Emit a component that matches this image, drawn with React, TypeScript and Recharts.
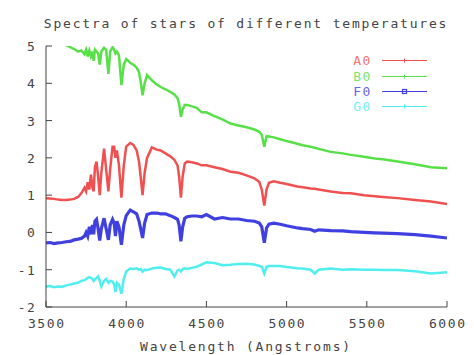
import { LineChart, Line, XAxis, YAxis, Legend } from "recharts"

// wavelength grid (Angstroms), denser around the absorption lines
const wavelengths = [
  3500, 3525, 3550, 3575, 3600, 3625, 3650, 3675, 3700, 3720, 3740, 3750, 3760, 3770, 3780, 3790,
  3797, 3805, 3815, 3825, 3835, 3845, 3862, 3875, 3889, 3900, 3915, 3925, 3933, 3942, 3955, 3970,
  3985, 4000, 4025, 4045, 4065, 4080, 4090, 4102, 4115, 4130, 4160, 4190, 4215, 4245, 4275, 4300,
  4320, 4330, 4341, 4352, 4365, 4380, 4410, 4440, 4471, 4500, 4550, 4600, 4650, 4700, 4750, 4800,
  4830, 4845, 4861, 4875, 4890, 4920, 4960, 5000, 5067, 5100, 5150, 5175, 5200, 5275, 5350, 5400,
  5483, 5550, 5600, 5692, 5800, 5900, 6000,
]

const a0 = [
  0.92, 0.91, 0.9, 0.88, 0.87, 0.87, 0.88, 0.9, 0.95, 1.05, 1.2, 1.1, 1.35, 1.15, 1.55, 1.2,
  1.1, 1.75, 1.9, 1.5, 1.0, 1.6, 2.25, 1.7, 1.1, 1.7, 2.3, 2.3, 2.0, 2.2, 1.8, 0.93,
  1.8, 2.3, 2.4, 2.35, 2.2, 1.9, 1.5, 1.0, 1.6, 2.0, 2.28, 2.22, 2.2, 2.12, 2.04, 1.95,
  1.8, 1.5, 0.93, 1.5, 1.85, 1.9, 1.88, 1.85, 1.8, 1.8, 1.75, 1.7, 1.63, 1.6, 1.53, 1.45,
  1.35, 1.15, 0.72, 1.15, 1.33, 1.37, 1.33, 1.3, 1.23, 1.21, 1.18, 1.17, 1.15, 1.1, 1.06, 1.05,
  1.0, 0.97, 0.95, 0.92, 0.87, 0.83, 0.76,
]

const b0 = [
  5.6, 5.5, 5.4, 5.25, 5.1, 5.02, 4.97, 4.92, 4.85, 4.88, 4.78, 4.9, 4.72, 4.88, 4.72, 4.85,
  4.6, 4.9, 4.85, 4.8, 4.5, 4.85, 4.95, 4.9, 4.25, 4.85, 4.97, 4.9, 4.8, 4.85, 4.75, 3.95,
  4.5, 4.65, 4.55, 4.5, 4.42, 4.3, 4.05, 3.68, 4.0, 4.22, 4.08, 3.97, 3.9, 3.84, 3.77, 3.7,
  3.6, 3.45, 3.1, 3.3, 3.42, 3.42, 3.38, 3.34, 3.22, 3.22, 3.12, 3.03, 2.92, 2.87, 2.82, 2.76,
  2.7, 2.62, 2.3, 2.58, 2.57, 2.55, 2.5, 2.45, 2.38, 2.34, 2.3, 2.27, 2.24, 2.16, 2.12, 2.08,
  2.03, 1.98, 1.96, 1.9, 1.83, 1.75, 1.72,
]

const f0 = [
  -0.28, -0.27, -0.3, -0.28, -0.27, -0.25, -0.24, -0.2, -0.18, -0.16, -0.1, 0.0, -0.1, 0.15, -0.05, 0.2,
  -0.05, 0.3, 0.35, 0.1, -0.22, 0.1, 0.38, 0.1, -0.2, 0.2, 0.35, 0.25, -0.1, 0.3, 0.15, -0.33,
  0.2, 0.45, 0.6, 0.55, 0.5, 0.3, 0.1, -0.15, 0.25, 0.48, 0.52, 0.52, 0.5, 0.5, 0.45, 0.4,
  0.35, 0.2, -0.24, 0.15, 0.38, 0.42, 0.44, 0.44, 0.42, 0.48, 0.36, 0.4, 0.36, 0.36, 0.32, 0.3,
  0.25, 0.15, -0.28, 0.12, 0.22, 0.25, 0.22, 0.18, 0.12, 0.1, 0.08, 0.03, 0.07, 0.05, 0.04, 0.02,
  0.0, -0.01, -0.02, -0.03, -0.06, -0.1, -0.15,
]

const g0 = [
  -1.45, -1.44, -1.47, -1.45, -1.46, -1.42, -1.4, -1.37, -1.35, -1.3, -1.28, -1.25, -1.22, -1.2, -1.22, -1.25,
  -1.3, -1.25, -1.22, -1.18, -1.3, -1.45, -1.3, -1.25, -1.35, -1.3, -1.32, -1.4, -1.6, -1.35, -1.4, -1.64,
  -1.25, -1.05, -0.97, -0.98, -0.96, -1.0, -0.98, -1.05, -1.0, -1.01, -0.97, -0.95, -0.94, -0.98, -1.0, -1.18,
  -1.02, -1.0, -1.05, -0.98, -0.96, -0.98, -0.95, -0.92, -0.86, -0.8, -0.82, -0.88, -0.87, -0.85, -0.84, -0.86,
  -0.9, -0.92, -1.1, -0.92, -0.9, -0.9, -0.9, -0.93, -0.96, -0.97, -1.0, -1.1, -1.0, -0.97, -1.0, -0.99,
  -1.0, -1.0, -1.01, -1.01, -1.04, -1.1, -1.07,
]

const xTicks = [3500, 4000, 4500, 5000, 5500, 6000]
const yTicks = [-2, -1, 0, 1, 2, 3, 4, 5]

const data = wavelengths.map((w, i) => ({ w, a0: a0[i], b0: b0[i], f0: f0[i], g0: g0[i] }))

const FONT = "'DejaVu Sans Mono', monospace"
const INK = "#444"
const FS = 13
const LS = 1.6
const markers: Record<string, string> = { A0: "plus", B0: "plus", F0: "box", G0: "plus" }

function BottomTick({ x, y, payload }: any) {
  return (
    <g>
      <line x1={x} x2={x} y1={y} y2={y - 6} stroke={INK} />
      <text x={x + LS / 2} y={y + 20.5} textAnchor="middle" fill={INK} fontSize={FS} letterSpacing={LS} fontFamily={FONT}>
        {payload.value}
      </text>
    </g>
  )
}

function TopTick({ x, y }: any) {
  return <line x1={x} x2={x} y1={y} y2={y + 6} stroke={INK} />
}

function LeftTick({ x, y, payload }: any) {
  return (
    <g>
      <line x1={x} x2={x + 6} y1={y} y2={y} stroke={INK} />
      <text x={x - 9.5} y={y + 5} textAnchor="end" fill={INK} fontSize={FS} letterSpacing={LS} fontFamily={FONT}>
        {payload.value}
      </text>
    </g>
  )
}

function RightTick({ x, y }: any) {
  return <line x1={x} x2={x - 6} y1={y} y2={y} stroke={INK} />
}

function KeyContent({ payload }: any) {
  return (
    <div style={{ fontFamily: FONT, fontSize: FS, letterSpacing: LS, lineHeight: "15px" }}>
      {(payload || []).map((p: any) => (
        <div key={p.value} style={{ display: "flex", alignItems: "center", height: 15.4 }}>
          <span style={{ color: p.color, width: 24, textAlign: "right", opacity: 0.8 }}>{p.value}</span>
          <svg width={60} height={15} style={{ marginLeft: 10 }}>
            <line x1={0} x2={45} y1={7.5} y2={7.5} stroke={p.color} strokeWidth={1} />
            {markers[p.value] === "box" ? (
              <rect x={20.5} y={5.5} width={4} height={4} fill="none" stroke={p.color} strokeWidth={1.2} />
            ) : (
              <path d="M20.5 7.5h4M22.5 5.5v4" stroke={p.color} strokeWidth={1} />
            )}
          </svg>
        </div>
      ))}
    </div>
  )
}

export default function App() {
  return (
    <div style={{ position: "absolute", left: 0, top: 0, width: 474, height: 355, background: "#fff" }}>
      <div
        style={{
          position: "absolute", left: 0, top: 16, width: 492, textAlign: "center",
          fontFamily: FONT, fontSize: FS, letterSpacing: 1.8, lineHeight: "16px", color: INK,
        }}
      >
        Spectra of stars of different temperatures
      </div>
      <LineChart width={474} height={355} data={data} margin={{ top: 46, right: 27, bottom: 0, left: 0 }}>
        <XAxis
          dataKey="w"
          type="number"
          domain={[3500, 6000]}
          ticks={xTicks}
          allowDataOverflow
          height={48}
          tickSize={0}
          tickMargin={0}
          tickLine={false}
          axisLine={{ stroke: INK }}
          tick={<BottomTick />}
          interval={0}
        />
        <XAxis
          xAxisId="top"
          orientation="top"
          dataKey="w"
          type="number"
          domain={[3500, 6000]}
          ticks={xTicks.slice(1, -1)}
          height={0}
          tickSize={0}
          tickMargin={0}
          tickLine={false}
          axisLine={{ stroke: INK }}
          tick={<TopTick />}
          interval={0}
        />
        <YAxis
          type="number"
          domain={[-2, 5]}
          ticks={yTicks}
          allowDataOverflow
          width={46}
          tickSize={0}
          tickMargin={0}
          tickLine={false}
          axisLine={{ stroke: INK }}
          tick={<LeftTick />}
          interval={0}
        />
        <YAxis
          yAxisId="right"
          orientation="right"
          type="number"
          domain={[-2, 5]}
          ticks={yTicks.slice(1, -1)}
          width={0}
          tickSize={0}
          tickMargin={0}
          tickLine={false}
          axisLine={{ stroke: INK }}
          tick={<RightTick />}
          interval={0}
        />
        <Legend
          layout="vertical"
          align="center"
          verticalAlign="middle"
          content={<KeyContent />}
          wrapperStyle={{ left: 348, top: 53, width: 98 }}
        />
        <Line type="linear" dataKey="a0" name="A0" stroke="#f05050" strokeWidth={2.5} dot={false} isAnimationActive={false} />
        <Line type="linear" dataKey="b0" name="B0" stroke="#58e048" strokeWidth={2.5} dot={false} isAnimationActive={false} />
        <Line type="linear" dataKey="f0" name="F0" stroke="#4040e0" strokeWidth={3.2} dot={false} isAnimationActive={false} />
        <Line type="linear" dataKey="g0" name="G0" stroke="#50eeee" strokeWidth={2.5} dot={false} isAnimationActive={false} />
      </LineChart>
      <div
        style={{
          position: "absolute", left: 0, top: 339, width: 492, textAlign: "center",
          fontFamily: FONT, fontSize: FS, letterSpacing: 1.8, lineHeight: "16px", color: INK,
        }}
      >
        Wavelength (Angstroms)
      </div>
    </div>
  )
}
